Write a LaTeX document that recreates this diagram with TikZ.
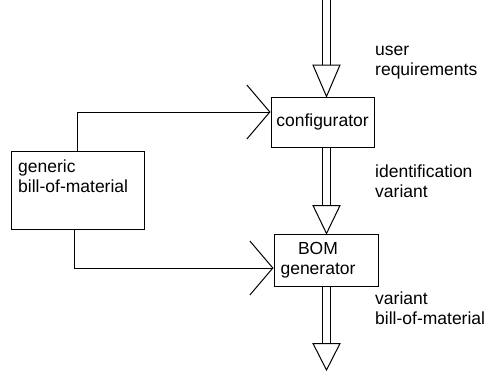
\documentclass[tikz,border=0pt]{standalone}
\usepackage{fontspec}
\setmainfont{Liberation Sans}
\usetikzlibrary{arrows.meta}
\begin{document}
\begin{tikzpicture}[x=1pt,y=-1pt,
    font=\fontsize{17.5}{20}\selectfont,
    box/.style={draw,line width=1pt,inner sep=0pt},
    lbl/.style={anchor=west,align=left,inner sep=0pt},
    flow/.style={double,double distance=7pt,line width=1pt},
    head/.style={draw,line width=1pt,fill=white},
    feed/.style={line width=1pt,-{Straight Barb[length=23pt,width=54pt]}}]
  \useasboundingbox (0,0) rectangle (489,372);
  \node[box,minimum width=103pt,minimum height=50pt] (conf) at (322.5,122) {configurator};
  \node[box,minimum width=104pt,minimum height=52pt] (bom) at (326,260) {};
  \node[align=center,inner sep=0pt] (bomtext) at (318,260) {BOM\\generator};
  \node[box,minimum width=133pt,minimum height=78pt] (generic) at (77.5,190) {};
  \node[lbl,anchor=north west] (generictext) at (18,160) {generic\\bill-of-material};
  \coordinate (in) at (326.5,0);
  \coordinate (out) at (326.5,370);
  \draw[flow] (in) -- ++(0,65) coordinate (t1);
  \draw[head] (t1) ++(-13.5,0) -- ++(27,0) -- (conf.north -| in) -- cycle;
  \draw[flow] (conf.south -| in) -- ++(0,58) coordinate (t2);
  \draw[head] (t2) ++(-13.5,0) -- ++(27,0) -- (bom.north -| in) -- cycle;
  \draw[flow] (bom.south -| in) -- ++(0,57) coordinate (t3);
  \draw[head] (t3) ++(-13.5,0) -- ++(27,0) -- (out) -- cycle;
  \draw[feed] (generic.north) |- ([yshift=10pt]conf.west);
  \draw[feed] ([xshift=-3pt]generic.south) |- ([yshift=-8pt]bom.west);
  \node[lbl] (userreq) at (375,63) {user\\requirements};
  \node[lbl] (idvar) at (375,181) {identification\\variant};
  \node[lbl] (varbom) at (375,308) {variant\\bill-of-material};
\end{tikzpicture}
\end{document}
